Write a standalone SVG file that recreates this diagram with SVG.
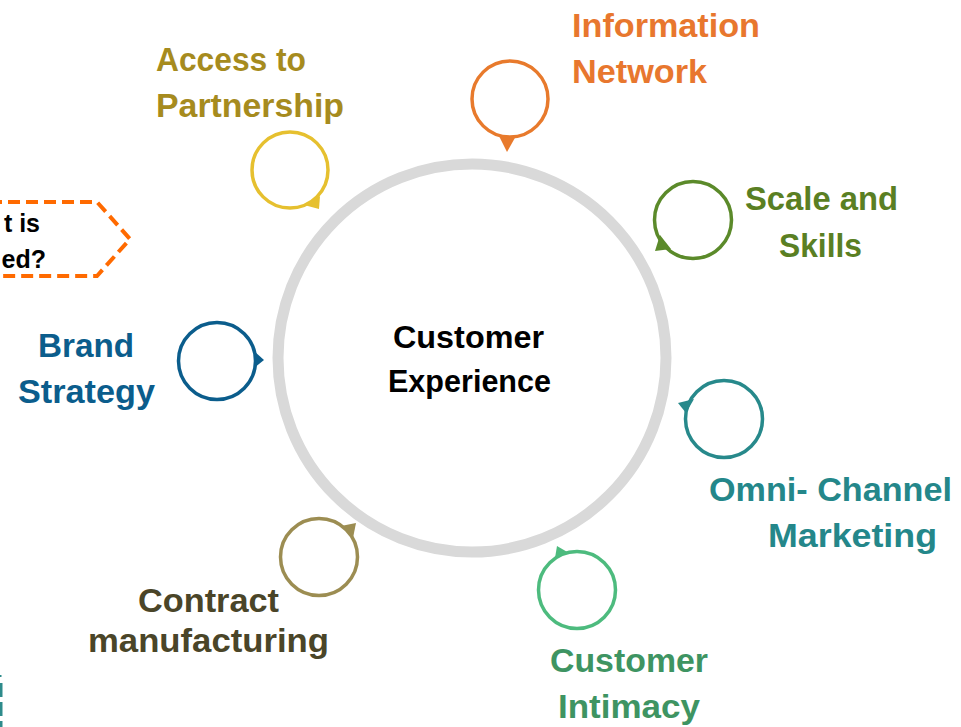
<svg xmlns="http://www.w3.org/2000/svg" width="961" height="727" viewBox="0 0 961 727">
<style>
  .lbl { font-family: "Liberation Sans", Arial, sans-serif; font-weight: bold; font-size: 34px; }
  .ctr { font-family: "Liberation Sans", Arial, sans-serif; font-weight: bold; font-size: 32px; fill: #000; }
  .small { font-family: "Liberation Sans", Arial, sans-serif; font-weight: bold; font-size: 25px; fill: #000; }
  .bub { fill: #fff; stroke-width: 3.5; }
</style>
<rect width="961" height="727" fill="#fff"/>

<g id="callout">
  <path d="M -10 202 H 97 L 130 239 L 97 276 H -10" fill="none" stroke="#FF6A00" stroke-width="4" stroke-dasharray="12 6"/>
  <text class="small" x="40" y="232" text-anchor="end">t is</text>
  <text class="small" x="46" y="268" text-anchor="end">ed?</text>
</g>

<g id="edge-mark">
  <line x1="1" y1="683" x2="1" y2="727" stroke="#2E8B8B" stroke-width="3" stroke-dasharray="14 5"/>
  <rect x="0" y="675" width="1.5" height="2" fill="#2E8B8B"/>
</g>

<g id="customer-experience">
  <circle cx="472" cy="358" r="194" fill="none" stroke="#D9D9D9" stroke-width="11"/>
  <text class="ctr" x="393" y="348" textLength="151" lengthAdjust="spacingAndGlyphs">Customer</text>
  <text class="ctr" x="388" y="392" textLength="163" lengthAdjust="spacingAndGlyphs">Experience</text>
</g>

<g id="connectors"></g>

<g id="access-to-partnership">
  <circle class="bub" cx="290" cy="170" r="38" stroke="#E6C02F"/>
  <polygon points="304,205 320,196 319,209" fill="#E6C02F"/>
  <text class="lbl" fill="#A68B1E" x="156" y="71" textLength="150" lengthAdjust="spacingAndGlyphs">Access to</text>
  <text class="lbl" fill="#A68B1E" x="156" y="117" textLength="188" lengthAdjust="spacingAndGlyphs">Partnership</text>
</g>

<g id="information-network">
  <circle class="bub" cx="510" cy="99" r="38" stroke="#E87A2C"/>
  <polygon points="499,136 516,136 507,152" fill="#E87A2C"/>
  <text class="lbl" fill="#E8772E" x="572" y="37" textLength="188" lengthAdjust="spacingAndGlyphs">Information</text>
  <text class="lbl" fill="#E8772E" x="572" y="83" textLength="135" lengthAdjust="spacingAndGlyphs">Network</text>
</g>

<g id="scale-and-skills">
  <circle class="bub" cx="693" cy="220" r="38.5" stroke="#5B8A2A"/>
  <polygon points="655,251 660,235 671,249" fill="#5B8A2A"/>
  <text class="lbl" fill="#5A7F23" x="745" y="210" textLength="153" lengthAdjust="spacingAndGlyphs">Scale and</text>
  <text class="lbl" fill="#5A7F23" x="779" y="257" textLength="83" lengthAdjust="spacingAndGlyphs">Skills</text>
</g>

<g id="brand-strategy">
  <circle class="bub" cx="217" cy="361" r="38.5" stroke="#0B5D8C"/>
  <polygon points="254,351 264,360 254,368" fill="#0B5D8C"/>
  <text class="lbl" fill="#0B5D8C" x="38" y="357" textLength="96" lengthAdjust="spacingAndGlyphs">Brand</text>
  <text class="lbl" fill="#0B5D8C" x="18" y="403" textLength="137" lengthAdjust="spacingAndGlyphs">Strategy</text>
</g>

<g id="omni-channel-marketing">
  <circle class="bub" cx="724" cy="419" r="38.5" stroke="#27898B"/>
  <polygon points="678,403 694,399 686,413" fill="#27898B"/>
  <text class="lbl" fill="#24878A" x="709" y="501" textLength="243" lengthAdjust="spacingAndGlyphs">Omni- Channel</text>
  <text class="lbl" fill="#24878A" x="768" y="547" textLength="169" lengthAdjust="spacingAndGlyphs">Marketing</text>
</g>

<g id="contract-manufacturing">
  <circle class="bub" cx="319" cy="557" r="38.5" stroke="#9C8D52"/>
  <polygon points="341,526 356,523 353,538" fill="#9C8D52"/>
  <text class="lbl" fill="#4A4528" x="138" y="612" textLength="141" lengthAdjust="spacingAndGlyphs">Contract</text>
  <text class="lbl" fill="#4A4528" x="88" y="652" textLength="241" lengthAdjust="spacingAndGlyphs">manufacturing</text>
</g>

<g id="customer-intimacy">
  <circle class="bub" cx="577" cy="590" r="38.5" stroke="#4DBB7E"/>
  <polygon points="557,546 569,553 555,558" fill="#4DBB7E"/>
  <text class="lbl" fill="#3E9462" x="550" y="672" textLength="158" lengthAdjust="spacingAndGlyphs">Customer</text>
  <text class="lbl" fill="#3E9462" x="558" y="718" textLength="142" lengthAdjust="spacingAndGlyphs">Intimacy</text>
</g>
</svg>
